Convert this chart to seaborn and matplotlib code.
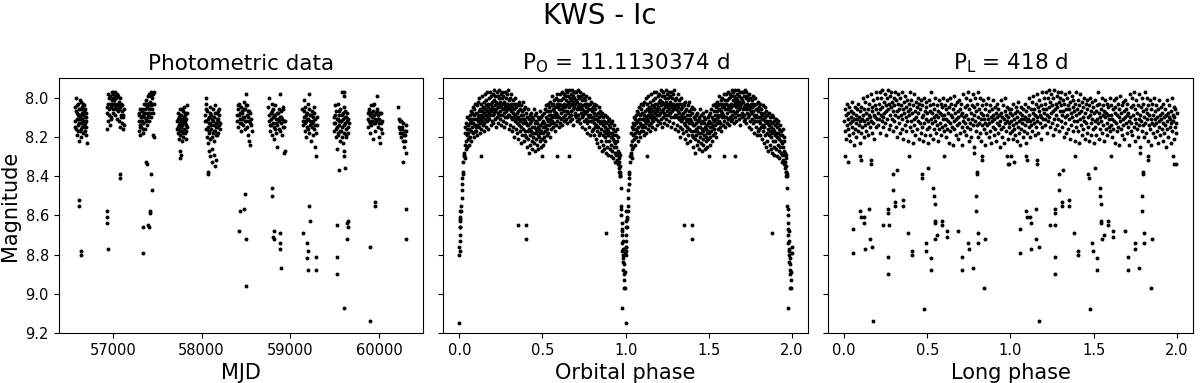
import numpy as np
import pandas as pd
import seaborn as sns
import matplotlib.pyplot as plt

# magnitudes in hundredths of a mag (812 -> 8.12), phases in thousandths (250 -> 0.25)

# photometric data, (MJD, mag) per observing season
season1 = [(56575,805),(56580,812),(56586,800),(56590,816),(56595,808),(56600,819),(56604,811),(56609,803),
           (56613,814),(56617,822),(56621,809),(56625,806),(56630,817),(56634,811),(56638,802),(56642,813),
           (56646,820),(56650,808),(56654,815),(56658,805),(56662,812),(56666,818),(56670,809),(56674,804),
           (56678,814),(56682,810),(56686,817),(56690,806),(56694,812),(56698,808),(56703,815),(56708,823),
           (56578,815),(56583,807),(56592,811),(56598,804),(56606,817),(56611,809),(56619,813),(56627,801),
           (56632,810),(56640,816),(56648,806),(56656,811),(56664,803),(56672,815),(56680,807),(56688,813),
           (56696,819),(56700,810),
           (56620,852),(56622,855),(56640,878),(56641,880)]
season2 = [(56935,816),(56940,808),(56946,803),(56951,812),(56957,800),(56962,806),(56968,814),(56973,799),
           (56979,805),(56984,810),(56990,797),(56995,803),(57000,808),(57005,798),(57010,804),(57015,801),
           (57020,809),(57025,797),(57030,803),(57035,806),(57040,800),(57045,811),(57050,804),(57055,799),
           (57060,807),(57065,802),(57070,812),(57076,805),(57082,815),(57088,809),(57094,803),(57100,813),
           (57106,807),(57112,816),(57120,810),(57128,814),
           (56938,805),(56949,798),(56955,809),(56965,803),(56976,811),(56987,801),(56998,800),(57003,806),
           (57008,797),(57018,803),(57028,799),(57038,805),(57048,798),(57058,803),(57068,806),(57079,800),
           (57091,810),(57103,804),(57115,809),(57125,806),
           (56936,858),(56937,861),(56938,864),(56942,877),(57085,839),(57086,841)]
season3 = [(57290,812),(57295,817),(57300,808),(57305,814),(57310,819),(57315,810),(57320,815),(57325,806),
           (57330,812),(57335,818),(57340,809),(57345,813),(57350,803),(57355,810),(57360,816),(57365,806),
           (57370,811),(57375,801),(57380,808),(57385,814),(57390,803),(57395,809),(57400,799),(57405,806),
           (57410,812),(57415,802),(57420,808),(57425,797),(57430,804),(57435,810),(57440,800),(57445,806),
           (57450,819),(57455,798),(57460,803),(57465,820),
           (57292,809),(57302,815),(57312,806),(57322,812),(57332,807),(57342,816),(57352,808),(57362,803),
           (57372,812),(57382,805),(57392,810),(57402,803),(57412,798),(57422,804),(57432,799),(57442,803),
           (57452,808),(57462,797),
           (57335,866),(57340,879),(57378,833),(57380,834),(57402,865),(57406,866),(57415,858),(57418,859),
           (57435,839),(57438,847)]
season4 = [(57725,812),(57730,818),(57734,808),(57738,815),(57742,821),(57746,810),(57750,816),(57754,806),
           (57758,813),(57762,819),(57766,809),(57770,815),(57774,822),(57778,811),(57782,817),(57786,807),
           (57790,813),(57794,820),(57798,810),(57802,816),(57806,805),(57810,812),(57814,818),(57818,808),
           (57822,814),(57826,821),(57830,811),(57834,804),(57838,815),
           (57727,816),(57736,811),(57744,814),(57752,809),(57760,817),(57768,812),(57776,806),(57784,814),
           (57792,818),(57800,812),(57808,809),(57816,813),(57824,817),(57832,808),
           (57760,827),(57765,829),(57755,831)]
season5 = [(58040,809),(58045,816),(58050,803),(58055,812),(58060,820),(58065,807),(58070,815),(58075,823),
           (58080,810),(58085,817),(58090,805),(58095,813),(58100,821),(58105,809),(58110,816),(58115,826),
           (58120,811),(58125,818),(58130,806),(58135,814),(58140,822),(58145,810),(58150,817),(58155,804),
           (58160,813),(58165,819),(58170,808),(58175,815),(58180,811),(58185,818),(58190,807),(58195,814),
           (58200,809),(58205,816),
           (58042,812),(58048,806),(58058,816),(58068,811),(58078,818),(58088,813),(58098,808),(58108,814),
           (58118,820),(58128,812),(58138,817),(58148,808),(58158,815),(58168,811),(58178,819),(58188,812),
           (58198,806),(58208,813),
           (58055,800),(58085,827),(58095,830),(58115,833),(58140,829),(58150,835),
           (58160,832),(58072,838),(58073,839)]
season6 = [(58400,812),(58406,806),(58412,815),(58418,809),(58424,803),(58430,813),(58436,808),(58442,817),
           (58448,805),(58454,811),(58460,807),(58466,814),(58472,802),(58478,810),(58484,816),(58490,806),
           (58496,812),(58502,798),(58508,809),(58514,804),(58520,819),(58526,810),(58532,822),(58538,807),
           (58544,813),(58550,824),(58556,811),(58562,817),
           (58403,809),(58415,804),(58427,811),(58439,813),(58451,808),(58463,810),(58475,806),(58487,812),
           (58499,804),(58511,815),(58523,807),(58535,812),(58547,808),(58559,814),
           (58421,868),(58436,858),(58484,849),(58482,857),(58500,872),(58498,896)]
season7 = [(58752,805),(58758,812),(58764,800),(58770,817),(58776,808),(58782,814),(58788,803),(58794,819),
           (58800,810),(58806,806),(58812,815),(58818,821),(58824,809),(58830,804),(58836,813),(58842,818),
           (58848,808),(58854,825),(58860,811),(58866,806),(58872,816),(58878,810),(58884,798),(58890,813),
           (58896,807),(58902,819),(58908,811),(58914,815),(58920,805),(58926,812),(58932,828),(58938,827),
           (58755,809),(58767,814),(58779,811),(58791,807),(58803,813),(58815,809),(58827,816),(58839,811),
           (58851,814),(58863,808),(58875,812),(58887,817),(58899,810),(58911,806),(58923,815),(58935,812),
           (58789,846),(58790,850),(58808,871),(58812,868),(58818,872),(58880,877),(58885,874),(58888,869),
           (58890,887)]
season8 = [(59135,806),(59141,814),(59147,801),(59153,810),(59159,817),(59165,805),(59171,812),(59177,820),
           (59183,808),(59189,815),(59195,803),(59201,811),(59207,818),(59213,798),(59219,809),(59225,814),
           (59231,822),(59237,807),(59243,813),(59249,819),(59255,810),(59261,805),(59267,816),(59273,825),
           (59279,811),(59285,818),(59291,830),(59297,814),
           (59138,812),(59150,807),(59162,813),(59174,809),(59186,811),(59198,816),(59210,806),(59222,812),
           (59234,809),(59246,815),(59258,812),(59270,808),(59282,814),(59294,810),
           (59146,869),(59191,874),(59192,878),(59190,882),(59193,888),(59214,855),(59215,863),(59285,881),
           (59287,888)]
season9 = [(59490,810),(59495,817),(59500,804),(59505,813),(59510,820),(59515,807),(59520,815),(59525,826),
           (59530,811),(59535,803),(59540,818),(59545,809),(59550,814),(59555,822),(59560,806),(59565,812),
           (59570,817),(59575,797),(59580,809),(59585,815),(59590,823),(59595,811),(59600,805),(59605,818),
           (59610,813),(59615,807),(59620,816),(59625,810),(59630,820),(59640,808),(59645,815),(59650,811),
           (59660,813),(59598,830),(59603,827),(59598,799),(59608,797),
           (59492,813),(59502,809),(59512,816),(59522,811),(59532,819),(59542,812),(59552,807),(59562,817),
           (59572,812),(59582,820),(59592,808),(59602,814),(59612,810),(59622,819),(59632,812),(59648,818),
           (59541,837),(59616,836),(59522,865),(59520,881),(59521,890),(59640,864),(59645,866),(59652,863),
           (59641,872),(59605,907)]
season10 = [(59870,815),(59876,808),(59882,812),(59888,806),(59894,818),(59900,809),(59906,804),(59912,814),
            (59918,810),(59924,821),(59930,807),(59936,813),(59942,803),(59948,811),(59954,817),(59960,808),
            (59966,812),(59972,799),(59978,806),(59984,815),(59990,809),(59996,820),(60002,811),(60008,823),
            (60014,813),(60020,808),(60026,818),
            (59873,811),(59885,807),(59897,813),(59909,808),(59921,812),(59933,804),(59945,809),(59957,813),
            (59969,807),(59981,811),(59993,813),(60005,808),(60017,816),(60029,812),
            (59897,876),(59954,853),(59955,855),(59890,914)]
season11 = [(60215,805),(60222,811),(60229,816),(60236,812),(60243,820),(60250,815),(60257,818),(60264,822),
            (60271,813),(60278,825),(60285,817),(60292,819),(60299,828),(60306,814),(60270,833),
            (60218,815),(60232,818),(60246,812),(60260,816),(60274,819),(60288,822),(60302,817),
            (60303,857),(60305,872)]
seasons = [season1, season2, season3, season4, season5, season6,
           season7, season8, season9, season10, season11]

# orbital phase fold (P = 11.1130374 d), one cycle
orb_egress = [(0,915),(1,880),(2,878),(1,876),(3,873),(2,870),(4,866),(3,863),(5,861),(6,866),(4,858),
              (7,862),(12,858),(13,855),(14,851),(16,847),(17,844),(19,841),(20,839),(22,838),(25,833),
              (27,830),(30,828)]
orb_out = [(31,829),(32,818),(34,824),(35,831),(37,815),(39,822),(40,826),(42,813),(44,819),(45,825),
           (47,816),(49,810),(51,821),(52,814),(54,818),(57,824),(58,811),(60,816),(62,809),(63,820),
           (65,813),(68,807),(70,817),(71,812),(73,822),(75,808),(77,815),(79,811),(81,805),(82,818),
           (84,813),(87,809),(88,820),(90,806),(92,814),(94,817),(95,803),(97,811),(99,815),
           (101,808),(102,817),(104,811),(106,804),(107,814),(109,819),(111,809),(113,802),(114,812),
           (116,807),(118,815),(120,810),(121,800),(123,813),(125,818),(127,806),(128,811),(130,803),
           (132,816),(133,809),(135,812),(137,799),(139,807),(140,814),(142,805),(144,810),(146,817),
           (147,802),(149,808),(151,813),(153,806),(154,798),(156,811),(158,804),(160,815),(161,809),
           (163,801),(165,807),(167,812),(168,797),(170,805),(172,810),(174,816),(175,803),(177,808),
           (179,800),(181,811),(182,806),(184,797),(186,809),(188,803),(189,814),(191,807),(193,799),
           (195,805),(196,812),(198,802),
           (200,809),(202,798),(203,806),(205,813),(207,801),(209,808),(210,796),(212,804),(214,811),
           (216,799),(217,807),(219,815),(221,802),(223,806),(224,797),(226,810),(228,803),(230,808),
           (231,799),(233,813),(235,805),(237,800),(238,809),(240,796),(242,804),(244,811),(245,802),
           (247,807),(249,798),(251,814),(252,805),(254,800),(256,809),(258,797),(259,803),(261,812),
           (263,806),(265,799),(266,808),(268,802),(270,815),(272,804),(273,797),(275,810),(277,805),
           (279,800),(280,807),(282,813),(284,798),(286,806),(287,803),(289,810),(291,796),(293,805),
           (294,809),(296,801),(298,816),(299,804),
           (301,809),(303,800),(305,806),(306,814),(308,803),(310,810),(312,798),(313,807),(315,817),
           (317,805),(319,811),(320,801),(322,808),(324,815),(326,803),(327,810),(329,820),(331,806),
           (333,812),(334,800),(336,809),(338,816),(340,805),(341,811),(343,803),(345,818),(347,808),
           (348,813),(350,804),(352,810),(354,821),(355,807),(357,814),(359,802),(361,811),(362,817),
           (364,806),(366,812),(368,823),(369,809),(371,815),(373,804),(375,811),(376,819),(378,807),
           (380,813),(382,802),(383,816),(385,809),(387,822),(389,811),(390,806),(392,817),(394,812),
           (396,805),(397,819),
           (399,813),(401,808),(403,820),(404,814),(406,825),(408,810),(410,817),(411,806),(413,814),
           (415,821),(417,811),(418,828),(420,816),(422,809),(424,819),(425,813),(427,824),(429,808),
           (431,817),(432,812),(434,822),(436,815),(438,810),(439,826),(441,818),(443,811),(445,820),
           (446,806),(448,815),(450,823),(452,813),(453,818),(455,809),(457,827),(459,816),(460,812),
           (462,821),(464,808),(466,817),(467,824),(469,813),(471,819),(473,810),(474,815),(476,826),
           (478,811),(480,820),(481,816),(483,807),(485,822),(487,814),(488,818),(490,825),(492,810),
           (494,817),(495,813),(497,821),(499,809),
           (501,818),(502,812),(504,824),(506,815),(508,808),(509,820),(511,813),(513,817),(515,806),
           (516,815),(518,822),(520,810),(522,814),(523,804),(525,819),(527,811),(529,807),(530,816),
           (532,812),(534,803),(536,818),(537,809),(539,814),(541,805),(543,811),(544,820),(546,807),
           (548,802),(550,813),(551,809),(553,816),(555,804),(557,810),(558,799),(560,812),(562,806),
           (564,815),(565,803),(567,809),(569,813),(571,801),(572,807),(574,817),(576,805),(578,810),
           (579,800),(581,808),(583,814),(585,803),(586,809),(588,798),(590,812),(592,805),(593,810),
           (595,801),(597,815),(599,806),
           (600,803),(602,810),(604,798),(606,806),(607,813),(609,801),(611,808),(613,804),(614,811),
           (616,797),(618,806),(620,814),(621,800),(623,805),(625,810),(627,798),(628,807),(630,803),
           (632,812),(634,799),(635,805),(637,809),(639,796),(641,804),(642,811),(644,801),(646,807),
           (648,797),(649,813),(651,804),(653,799),(655,808),(656,802),(658,810),(660,796),(662,805),
           (663,800),(665,812),(667,803),(669,798),(670,807),(672,801),(674,809),(676,796),(677,804),
           (679,811),(681,799),(683,806),(684,802),(686,814),(688,797),(690,805),(691,800),(693,809),
           (695,803),(697,797),(698,808),
           (700,801),(702,810),(704,797),(705,806),(707,802),(709,812),(711,799),(712,805),(714,809),
           (716,796),(718,804),(719,811),(721,800),(723,806),(725,797),(726,813),(728,803),(730,808),
           (732,799),(733,805),(735,810),(737,801),(739,815),(740,806),(742,798),(744,809),(746,804),
           (747,812),(749,800),(751,807),(753,803),(754,816),(756,808),(758,801),(760,811),(761,805),
           (763,799),(765,813),(767,807),(768,803),(770,818),(772,809),(774,804),(775,812),(777,800),
           (779,810),(781,806),(782,815),(784,803),(786,809),(788,819),(789,806),(791,812),(793,802),
           (795,810),(796,817),(798,807),
           (800,812),(802,805),(803,816),(805,810),(807,803),(809,813),(810,819),(812,808),(814,815),
           (816,806),(817,811),(819,821),(821,809),(823,814),(824,804),(826,817),(828,811),(830,823),
           (831,808),(833,815),(835,812),(837,805),(838,819),(840,810),(842,825),(844,813),(845,807),
           (847,818),(849,812),(851,822),(852,809),(854,816),(856,827),(858,813),(859,808),(861,819),
           (863,814),(865,824),(866,810),(868,817),(870,812),(872,826),(873,815),(875,820),(877,809),
           (879,818),(880,828),(882,813),(884,822),(886,816),(887,810),(889,825),(891,817),(893,812),
           (894,829),(896,819),(898,814),
           (900,822),(902,811),(903,818),(905,826),(907,815),(909,820),(910,830),(912,813),(914,824),
           (916,818),(917,812),(919,827),(921,821),(923,816),(924,831),(926,819),(928,825),(930,814),
           (931,822),(933,828),(935,817),(937,833),(938,823),(940,819),(942,829),(944,825),(945,816),
           (947,832),(949,822),(951,827),(952,834),(954,820),(955,829),
           (130,830),(500,830),(590,830),(660,830),(350,865),(400,865),(400,872),(880,869)]
orb_ingress = [(957,833),(959,828),(960,836),(961,831),(962,838),(963,835),(964,829),(965,840),(966,838),
               (967,839),(968,840),(970,846),(972,855),(973,857),(974,860),(975,864),(976,867),(977,870),
               (978,874),(979,868),(980,878),(981,873),(982,880),(983,877),(984,884),(985,882),(986,888),
               (987,885),(988,890),(977,907),(990,897),(992,893),(994,889),(995,897),(998,879),(999,876)]

# long period fold (P = 418 d), one cycle
long_core = [(2,812),(5,806),(7,817),(10,809),(13,821),(15,814),(18,803),(21,811),(23,816),(26,808),
             (29,819),(31,805),(34,813),(37,822),(39,810),(42,807),(45,815),(47,802),(50,812),(53,818),
             (55,808),(58,824),(61,811),(63,805),(66,816),(69,809),(71,813),(74,820),(77,806),(79,811),
             (82,817),(85,803),(87,814),(90,810),(93,823),(95,807),(98,812),
             (101,818),(103,805),(106,811),(109,815),(111,800),(114,809),(117,820),(119,812),(122,806),
             (125,814),(127,802),(130,817),(133,808),(135,811),(138,799),(141,813),(143,806),(146,819),
             (149,809),(151,803),(154,815),(157,810),(159,798),(162,812),(165,805),(167,818),(170,807),
             (173,801),(175,813),(178,809),(181,821),(183,804),(186,810),(189,797),(191,815),(194,806),
             (197,811),(199,800),
             (202,808),(205,814),(207,803),(210,811),(213,797),(215,806),(218,818),(221,809),(223,800),
             (226,812),(229,805),(231,796),(234,810),(237,815),(239,802),(242,808),(245,798),(247,813),
             (250,804),(253,819),(255,807),(258,800),(261,811),(263,796),(266,806),(269,816),(271,803),
             (274,809),(277,799),(279,814),(282,805),(285,797),(287,811),(290,802),(293,817),(295,807),
             (298,800),
             (301,812),(303,804),(306,797),(309,809),(311,815),(314,801),(317,807),(319,820),(322,803),
             (325,810),(327,798),(330,813),(333,806),(335,818),(338,800),(341,809),(343,804),(346,816),
             (349,797),(351,811),(354,806),(357,821),(359,802),(362,808),(365,814),(367,799),(370,810),
             (373,805),(375,817),(378,801),(381,812),(383,807),(386,822),(389,803),(391,809),(394,797),
             (397,815),(399,806),
             (402,812),(405,801),(407,817),(410,808),(413,823),(415,804),(418,811),(421,798),(423,814),
             (426,807),(429,819),(431,802),(434,810),(437,805),(439,816),(442,800),(445,812),(447,808),
             (450,821),(453,803),(455,813),(458,806),(461,818),(463,801),(466,810),(469,815),(471,804),
             (474,822),(477,809),(479,800),(482,813),(485,807),(487,819),(490,802),(493,811),(495,805),
             (498,816),
             (501,808),(503,823),(506,812),(509,801),(511,815),(514,807),(517,819),(519,804),(522,811),
             (525,797),(527,813),(530,808),(533,821),(535,803),(538,810),(541,816),(543,806),(546,812),
             (549,800),(551,818),(554,809),(557,804),(559,814),(562,807),(565,822),(567,810),(570,801),
             (573,816),(575,808),(578,813),(581,803),(583,819),(586,809),(589,805),(591,815),(594,811),
             (597,800),(599,817),
             (602,809),(605,814),(607,804),(610,820),(613,811),(615,806),(618,816),(621,801),(623,812),
             (626,808),(629,823),(631,805),(634,813),(637,800),(639,817),(642,809),(645,803),(647,815),
             (650,810),(653,824),(655,806),(658,812),(661,799),(663,816),(666,808),(669,804),(671,819),
             (674,811),(677,802),(679,814),(682,807),(685,821),(687,810),(690,801),(693,813),(695,806),
             (698,818),
             (701,809),(703,803),(706,815),(709,808),(711,824),(714,812),(717,798),(719,810),(722,817),
             (725,805),(727,813),(730,800),(733,819),(735,809),(738,804),(741,815),(743,797),(746,811),
             (749,822),(751,806),(754,813),(757,801),(759,816),(762,808),(765,820),(767,804),(770,811),
             (773,798),(775,814),(778,809),(781,825),(783,805),(786,812),(789,800),(791,817),(794,807),
             (797,814),
             (799,803),(802,810),(805,820),(807,797),(810,813),(813,806),(815,818),(818,800),(821,811),
             (823,808),(826,822),(829,804),(831,814),(834,809),(837,801),(839,816),(842,811),(845,824),
             (847,806),(850,813),(853,803),(855,818),(858,809),(861,814),(863,800),(866,811),(869,820),
             (871,807),(874,813),(877,804),(879,817),(882,810),(885,823),(887,806),(890,812),(893,801),
             (895,815),(898,809),
             (901,819),(903,811),(906,805),(909,816),(911,808),(914,822),(917,813),(919,803),(922,810),
             (925,818),(927,806),(930,814),(933,809),(935,825),(938,812),(941,801),(943,816),(946,808),
             (949,820),(951,810),(954,804),(957,815),(959,811),(962,823),(965,807),(967,813),(970,800),
             (973,817),(975,809),(978,812),(981,805),(983,821),(986,810),(989,815),(991,806),(994,813),
             (997,818),(999,808)]
long_faint = [(5,830),(22,833),(95,830),(100,832),(160,832),(161,834),(390,830),(603,830),(778,828),
              (828,830),(829,832),(980,830),(984,834),(994,834),
              (56,867),(56,879),(96,858),(100,861),(120,861),(121,864),(126,877),(152,857),(154,872),
              (170,876),(174,914),(236,865),(266,857),(267,859),(270,865),(266,881),(266,890),(293,839),
              (293,847),(307,853),(308,855),(317,837),(353,852),(354,855),(383,869),(407,878),(408,880),
              (469,839),(470,841),(481,908),(493,874),(494,878),(507,836),(521,882),(522,888),(537,846),
              (538,850),(547,854),(546,863),(547,864),(548,872),(561,870),(587,863),(588,865),(617,868),
              (618,871),(687,868),(707,881),(708,888),(747,874),(748,877),(773,887),(792,850),(793,858),
              (798,838),(799,839),(804,869),(805,874),(842,897),(848,872)]


def fold(points):
    df = pd.DataFrame(points, columns=['phase', 'mag']) / [1000, 100]
    return pd.concat([df, df.assign(phase=df['phase'] + 1)], ignore_index=True)


phot = pd.DataFrame([p for s in seasons for p in s], columns=['mjd', 'mag'])
phot['mag'] = phot['mag'] / 100
orb = fold(orb_egress + orb_out + orb_ingress)
lng = fold(long_core + long_faint)

fig, axes = plt.subplots(1, 3, figsize=(12, 3.83), dpi=100, sharey=True)
fig.subplots_adjust(left=0.0488, right=0.994, bottom=0.1305, top=0.7963, wspace=0.055)
kw = dict(color='black', s=8, linewidth=0)

sns.scatterplot(data=phot, x='mjd', y='mag', ax=axes[0], **kw)
sns.scatterplot(data=orb, x='phase', y='mag', ax=axes[1], **kw)
sns.scatterplot(data=lng, x='phase', y='mag', ax=axes[2], **kw)

axes[0].set_ylim(9.2, 7.9)
axes[0].set_yticks([8.0, 8.2, 8.4, 8.6, 8.8, 9.0, 9.2])
axes[0].set_xlim(56390, 60495)
axes[0].set_xticks([57000, 58000, 59000, 60000])
for ax in axes[1:]:
    ax.set_xlim(-0.096, 2.096)
    ax.set_xticks([0, 0.5, 1.0, 1.5, 2.0])

axes[0].set_title('Photometric data', fontsize=15.5)
axes[1].set_title(r'P$_\mathrm{O}$ = 11.1130374 d', fontsize=15.5)
axes[2].set_title(r'P$_\mathrm{L}$ = 418 d', fontsize=15.5)
axes[0].set_xlabel('MJD', fontsize=15)
axes[1].set_xlabel('Orbital phase', fontsize=15)
axes[2].set_xlabel('Long phase', fontsize=15)
axes[0].set_ylabel('Magnitude', fontsize=15)
for ax in axes:
    ax.tick_params(labelsize=10.5)
axes[1].set_ylabel('')
axes[2].set_ylabel('')

fig.suptitle('KWS - Ic', fontsize=20, y=0.995)
fig.savefig('out.png', dpi=100)
